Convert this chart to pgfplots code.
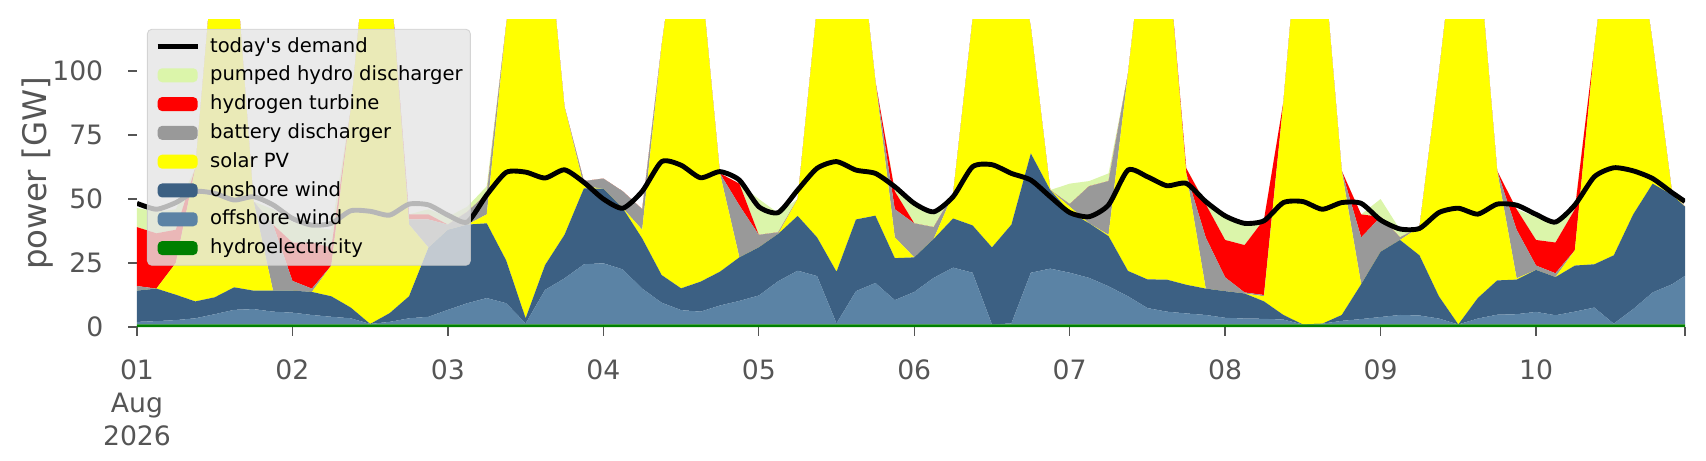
\documentclass[border=0pt]{standalone}
\usepackage{fontspec}
\setmainfont{DejaVu Sans}
\usepackage{pgfplots}
\usepackage{pgfplotstable}
\pgfplotsset{compat=1.18}

\definecolor{tickgray}{HTML}{555555}
\definecolor{hydroc}{HTML}{008000}
\definecolor{offc}{HTML}{5B83A5}
\definecolor{onc}{HTML}{3C6083}
\definecolor{solarc}{HTML}{FFFF00}
\definecolor{battc}{HTML}{999999}
\definecolor{htwoc}{HTML}{FF0000}
\definecolor{pumpc}{HTML}{DBF5AA}
\definecolor{legfill}{HTML}{E5E5E5}
\definecolor{legedge}{HTML}{CCCCCC}

\pgfplotsset{
  arealeg/.style={legend image code/.code={\fill[##1, fill opacity=1, draw opacity=1] (0pt,-3.15pt) rectangle (18pt,3.15pt);}},
  lineleg/.style={legend image code/.code={\draw[##1, draw opacity=1] (0pt,0pt) -- (18pt,0pt);}},
}

% t = hour since 01 Aug 2026 00:00; H hydro, O offshore, W onshore, S solar,
% B battery, Y hydrogen turbine, P pumped hydro, D today's demand (GW)
\pgfplotstableread{
t H O W S B Y P D
0 1 1.0 12.2 0 1.8 23 7.5 48.3
3 1 1.3 12.7 0 0 21.6 8.4 46
6 1 1.7 9.9 12.4 0 13 8 48.6
9 1 2.4 6.6 52 0 0 0 52.9
12 1 4 6.6 138.4 0 0 0 52.2
15 1 5.7 8.8 134.5 0 0 0 49.6
18 1 6 7.2 34.8 0 0 0 50.9
21 1 5 8.2 0 25.8 0 6 47.7
24 1 4.6 8.6 0 3.8 15 8 42.4
27 1 3.7 9 0 1.3 18 6 39.8
30 1 3 8 12 0 7 7 40.5
33 1 2.4 4.2 77.4 0 0 0 45.4
36 1 0.2 0 163.8 0 0 0 45.2
39 1 1 3.4 134.6 0 0 0 43.7
42 1 2.4 8.6 28 2 2 0 48
45 1 3 27 0 11 2 2 47.7
48 1 5.7 31.3 0 2 0 3 43.7
51 1 8.3 30.7 0 5 0 2 41
54 1 10.3 29.2 3.5 8 0 3 51.6
57 1 8.3 16.7 92 0 0 0 60.4
60 1 0.4 2 166.6 0 0 0 60.5
63 1 13.5 9.7 140.8 0 0 0 58.2
66 1 18 17 50 0 0 0 61.4
69 1 23.5 29.7 0.8 2 0 0 56.5
72 1 23.9 29.1 0 4 0 0 50
75 1 21.5 23.9 0 6.6 0 0 46.4
78 1 14 19.6 3.4 8 0 0 53
81 1 8.5 10.8 89.7 0 0 0 64.6
84 1 5.6 8.5 149.9 0 0 0 63.2
87 1 5 11.7 122.3 0 0 0 58.3
90 1 7.4 13.2 38.4 0 0 0 60.7
93 1 9.2 17 0 20.3 8.5 0 57.4
96 1 11.3 18.8 0 4.9 0 14 47
99 1 16.9 18.5 0 0.6 0 7.5 44.7
102 1 21 21.4 6.6 0 0 0 53.5
105 1 18.9 15.1 90 0 0 0 62
108 1 0.4 20.2 153.4 0 0 0 64.6
111 1 13 28 123 0 0 0 61.3
114 1 16.2 26.3 52.5 0 0 0 60
117 1 9.5 16.4 8.1 11 7 0.5 54.8
120 1 12.7 13.5 0 13.3 0 7.5 48.3
123 1 18.2 15.2 0 4.6 0 6 45
126 1 22.2 19.2 9.6 0 0 0 50.9
129 1 20.2 18.5 80.3 0 0 0 62.6
132 1 0 30.1 138.9 0 0 0 63.4
135 1 0.4 38.6 120 0 0 0 60
138 1 20.2 46.6 49.2 0 0 0 57.4
141 1 21.8 30.7 0 0 0 0 50.9
144 1 20.2 23.8 2 1 0 8 44.7
147 1 18.2 21.3 0 14.5 0 2 43.1
150 1 14.9 19.6 0.5 21 0 3 47.7
153 1 11 9.9 77.1 0 0 0 61.3
156 1 6.4 11.2 146.4 0 0 0 58.7
159 1 5 12.5 131.5 0 0 0 55.2
162 1 4.3 11.2 43.5 0 2 0 56.1
165 1 3.7 10.3 0 20 13 0.5 49
168 1 2.6 10.4 0 5.4 14.6 8.7 43.4
171 1 2.3 9.8 0 0.4 18.5 9 40.5
174 1 2.2 6.8 2 0.5 29.5 0 41.5
177 1 1.9 1.8 83.3 0 0 0 48.6
180 1 0 0 174 0 0 0 49
183 1 0.3 0 148.7 0 0 0 46
186 1 1.4 2.3 56.3 0 0 0 48.6
189 1 2.1 13.6 0 18.3 9 0 48.3
192 1 2.9 25.5 0 13.6 0 7 41.8
195 1 3.7 29.3 0 1 0 3 38.3
198 1 3.5 23.5 11 0 0 0 38.5
201 1 2.3 8.7 87 0 0 0 44.7
204 1 0 0 164 0 0 0 46.4
207 1 2.3 8 138.7 0 0 0 44.1
210 1 3.8 13.4 42.8 0 0 0 48
213 1 4 13.5 0.5 19 8 0 47.6
216 1 4.9 16.4 0 1.7 10 9 44
219 1 3.6 14.9 0 1.5 12 7 41
222 1 5 18 6 0 16 1 47.7
225 1 6.6 16.9 84.5 0 0 0 58.7
228 1 0.3 26.7 142 0 0 0 62.2
231 1 6 37 121 0 0 0 61
234 1 12.5 42.5 55 0 0 0 58
237 1 15.7 34.9 0.9 0 0 0 52.5
239 1 19 27 0 0 0 0 49
}\gen

\begin{document}
\begin{tikzpicture}
\path[use as bounding box] (-61.65pt,-59.85pt) rectangle (706.05pt,147.15pt);
\begin{axis}[
  at={(0pt,0pt)}, anchor=south west,
  scale only axis, width=696.6pt, height=138.24pt,
  xmin=0, xmax=239, ymin=0, ymax=120,
  stack plots=y,
  axis lines*=left,
  axis line style={draw=none},
  tick align=outside,
  major tick length=4pt,
  tick style={color=tickgray, line width=0.6pt},
  xtick={0,24,...,216},
  xticklabels={{01\\Aug\\2026},02,03,04,05,06,07,08,09,10},
  extra x ticks={239}, extra x tick labels={},
  ytick={0,25,50,75,100},
  /pgf/number format/assume math mode=true,
  xticklabel style={align=center, inner sep=0pt, yshift=-10.4pt, text=tickgray,
    font=\fontsize{12}{14.8}\selectfont},
  yticklabel style={inner sep=0pt, xshift=-11pt, text=tickgray,
    font=\fontsize{12}{14.8}\selectfont},
  every axis y label/.style={at={(axis description cs:-0.064,0.5)}, rotate=90, anchor=center},
  ylabel={power [GW]},
  ylabel style={text=tickgray, inner sep=0pt, font=\fontsize{14.6}{17}\selectfont},
]
\addplot[fill=hydroc, draw=none] table[x=t, y=H]{\gen} \closedcycle;
\addplot[fill=offc, draw=none] table[x=t, y=O]{\gen} \closedcycle;
\addplot[fill=onc, draw=none] table[x=t, y=W]{\gen} \closedcycle;
\addplot[fill=solarc, draw=none] table[x=t, y=S]{\gen} \closedcycle;
\addplot[fill=battc, draw=none] table[x=t, y=B]{\gen} \closedcycle;
\addplot[fill=htwoc, draw=none] table[x=t, y=Y]{\gen} \closedcycle;
\addplot[fill=pumpc, draw=none] table[x=t, y=P]{\gen} \closedcycle;
\end{axis}
\begin{axis}[
  at={(0pt,0pt)}, anchor=south west,
  scale only axis, width=696.6pt, height=138.24pt,
  xmin=0, xmax=239, ymin=0, ymax=120,
  hide axis,
  legend cell align=left,
  legend style={at={(axis description cs:0.00646,0.9707)}, anchor=north west,
    fill=legfill, fill opacity=0.8, draw=legedge, draw opacity=0.8, text opacity=1,
    rounded corners=2pt, inner xsep=3.5pt, inner ysep=3.25pt, row sep=3.96pt,
    font=\fontsize{8.8}{10.5}\selectfont,
    nodes={inner sep=0pt, text height=7pt, text depth=2pt},
    /tikz/every odd column/.append style={column sep=4.5pt}},
]
\addplot[black, line width=2.2pt, smooth, tension=0.4, lineleg] table[x=t, y=D]{\gen};
\addlegendentry{today\textquotesingle s demand}
\addlegendimage{arealeg, fill=pumpc, draw=none}
\addlegendentry{pumped hydro discharger}
\addlegendimage{arealeg, fill=htwoc, draw=none}
\addlegendentry{hydrogen turbine}
\addlegendimage{arealeg, fill=battc, draw=none}
\addlegendentry{battery discharger}
\addlegendimage{arealeg, fill=solarc, draw=none}
\addlegendentry{solar PV}
\addlegendimage{arealeg, fill=onc, draw=none}
\addlegendentry{onshore wind}
\addlegendimage{arealeg, fill=offc, draw=none}
\addlegendentry{offshore wind}
\addlegendimage{arealeg, fill=hydroc, draw=none}
\addlegendentry{hydroelectricity}
\end{axis}
\end{tikzpicture}
\end{document}
